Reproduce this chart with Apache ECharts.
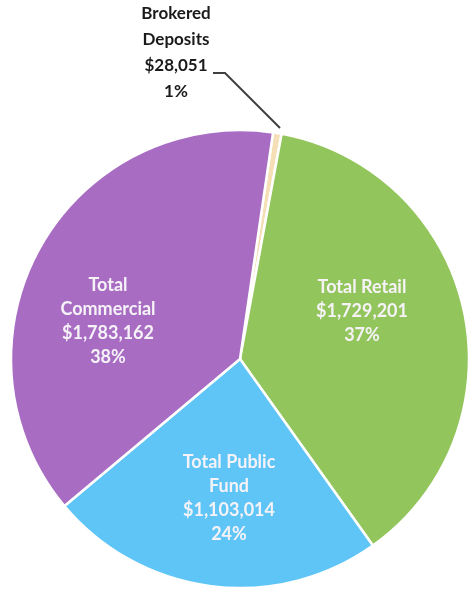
<!DOCTYPE html>
<html>
<head>
<meta charset="utf-8">
<script src="https://cdn.jsdelivr.net/npm/echarts@6/dist/echarts.min.js"></script>
<style>
html,body{margin:0;padding:0;background:#fff;}
#chart{width:470px;height:589px;}
</style>
</head>
<body>
<div id="chart"></div>
<script>
// Data
const categories = ['Brokered\nDeposits', 'Total Retail', 'Total Public\nFund', 'Total\nCommercial'];
const values = [28051, 1729201, 1103014, 1783162];
const colors = ['#f5dfb6', '#93c55d', '#5ec5f6', '#a86cc3'];

// Layout (label anchor points)
const CX = 240, CY = 359, R = 229;
const labelPos = [[176, 53], [362, 311], [229, 498], [108, 321]];

function fmt(v) { return '$' + v.toLocaleString('en-US'); }

const chart = echarts.init(document.getElementById('chart'), null, {renderer: 'canvas'});
chart.setOption({
  animation: false,
  backgroundColor: '#ffffff',
  series: [{
    type: 'pie',
    center: [CX, CY],
    radius: [0, R],
    startAngle: 81.7,
    clockwise: true,
    percentPrecision: 0,
    avoidLabelOverlap: false,
    itemStyle: { borderColor: '#ffffff', borderWidth: 2.5 },
    label: {
      show: true,
      position: 'inside',
      formatter: p => p.name + '\n' + fmt(p.value) + '\n' + p.percent + '%',
      color: '#f6f3f8',
      fontFamily: 'Lato',
      fontWeight: 'bold',
      fontSize: 18,
      lineHeight: 24,
      align: 'center'
    },
    labelLine: { show: false },
    labelLayout: function (params) {
      const i = params.dataIndex;
      const res = { x: labelPos[i][0], y: labelPos[i][1], align: 'center', verticalAlign: 'middle' };
      if (i === 0) {
        res.labelLinePoints = [[280, 128], [225, 73], [213, 73]];
      }
      return res;
    },
    data: categories.map((c, i) => {
      const d = { name: c, value: values[i], itemStyle: { color: colors[i] } };
      if (i === 0) {
        d.label = { position: 'outside', color: '#1a1a1a', lineHeight: 26, fontSize: 17 };
        d.labelLine = { show: true, length: 20, length2: 10, lineStyle: { color: '#404040', width: 2 } };
      }
      return d;
    })
  }]
});
</script>
</body>
</html>
